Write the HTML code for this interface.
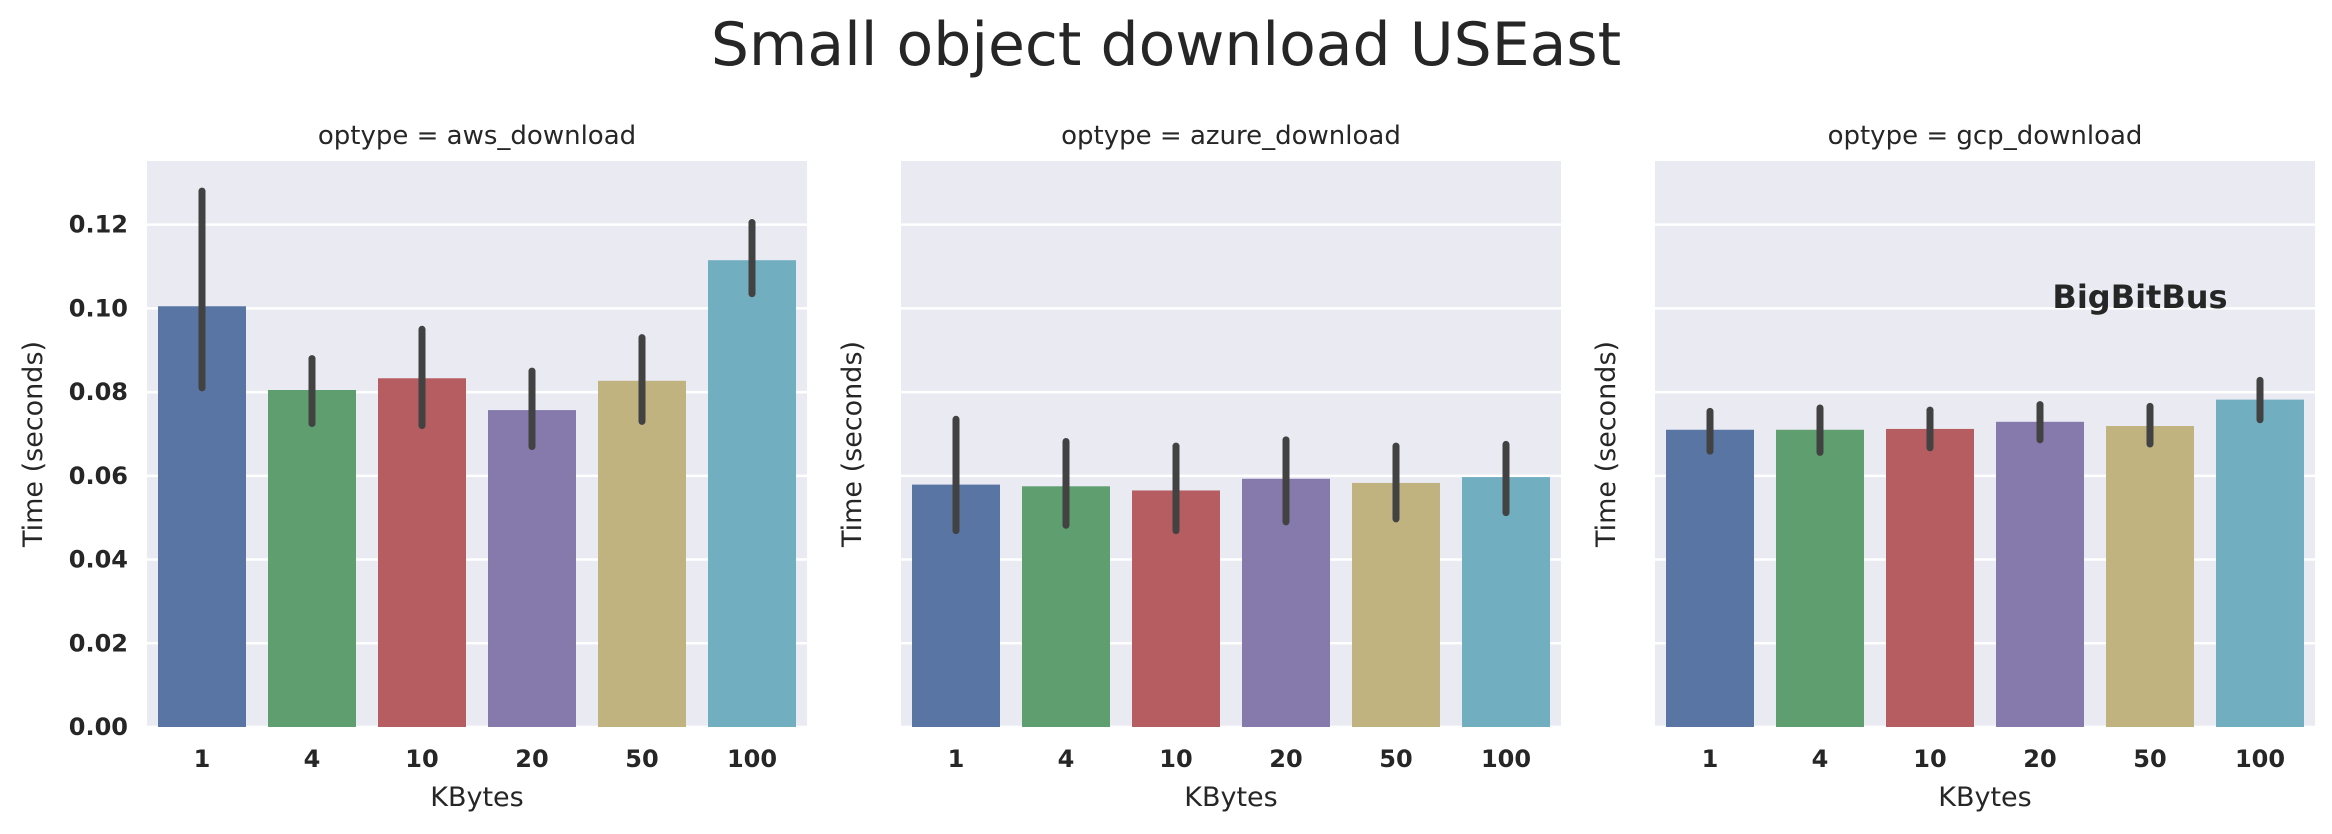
<!DOCTYPE html>
<html><head><meta charset="utf-8"><style>
html,body{margin:0;padding:0;background:#fff;}
svg{display:block;font-family:"DejaVu Sans","Liberation Sans",sans-serif;}
</style></head><body>
<svg id="chart" width="2332" height="834" viewBox="0 0 2332 834" xmlns="http://www.w3.org/2000/svg">
<text x="1166" y="65" font-size="60" text-anchor="middle" fill="#262626">Small object download USEast</text>
</svg>
<script>
const categories = ["1","4","10","20","50","100"];
const panelTitles = ["optype = aws_download","optype = azure_download","optype = gcp_download"];
const awsMean = [0.1005,0.0805,0.0833,0.0757,0.0827,0.1115];
const awsLow  = [0.081,0.0725,0.072,0.067,0.073,0.1035];
const awsHigh = [0.128,0.088,0.095,0.085,0.093,0.1205];
const azureMean = [0.0579,0.0575,0.0565,0.0593,0.0583,0.0597];
const azureLow  = [0.0469,0.0482,0.0469,0.0490,0.0497,0.0512];
const azureHigh = [0.0735,0.0682,0.0671,0.0686,0.0671,0.0675];
const gcpMean = [0.0710,0.0710,0.0712,0.0729,0.0719,0.0782];
const gcpLow  = [0.0659,0.0656,0.0667,0.0686,0.0676,0.0734];
const gcpHigh = [0.0754,0.0762,0.0757,0.0770,0.0766,0.0828];
const yTicks = [0,0.02,0.04,0.06,0.08,0.10,0.12];
const yTickLabels = ["0.00","0.02","0.04","0.06","0.08","0.10","0.12"];

const svgEl = document.getElementById('chart');
const NS = "http://www.w3.org/2000/svg";
const colors = ["#5975a4","#5f9e6e","#b55d60","#857aab","#c1b37f","#71aec0"];
const panels = [[awsMean,awsLow,awsHigh],[azureMean,azureLow,azureHigh],[gcpMean,gcpLow,gcpHigh]];
const lefts = [147,901,1655], pw = 660, plotTop = 161, plotBottom = 727, yMax = 0.1352;
function yScale(v){ return plotBottom - v/yMax*(plotBottom-plotTop); }
function mk(tag, attrs){ const e=document.createElementNS(NS,tag); for(const k in attrs) e.setAttribute(k,attrs[k]); svgEl.appendChild(e); return e; }
panels.forEach((p,pi)=>{
  const L = lefts[pi];
  const slot = pw/categories.length;
  function xScale(i){ return L + slot*(i+0.5); }
  const bg = mk('rect',{x:L,y:plotTop,width:pw,height:plotBottom-plotTop,fill:'#eaeaf2'});
  
  
  yTicks.forEach((t,ti)=>{
    const g = mk('line',{x1:L,x2:L+pw,y1:yScale(t),y2:yScale(t),stroke:'#fff','stroke-width':2.5});
    
    
    if(pi===0){
      const tl = mk('text',{x:L-19,y:yScale(t)+8,'font-size':24,'font-weight':'bold','text-anchor':'end',fill:'#262626'});
      tl.textContent = yTickLabels[ti];
      
      
    }
  });
  categories.forEach((c,i)=>{
    const bw = slot*0.8;
    const b = mk('rect',{x:xScale(i)-bw/2,y:yScale(p[0][i]),width:bw,height:plotBottom-yScale(p[0][i]),fill:colors[i]});
    
    
    const e = mk('line',{x1:xScale(i),x2:xScale(i),y1:yScale(p[1][i]),y2:yScale(p[2][i]),stroke:'#424242','stroke-width':7,'stroke-linecap':'round'});
    
    
    const tl = mk('text',{x:xScale(i),y:767,'font-size':24,'font-weight':'bold','text-anchor':'middle',fill:'#262626'});
    tl.textContent = c;
    
    
  });
  const pt = mk('text',{x:L+pw/2,y:144,'font-size':26,'text-anchor':'middle',fill:'#262626'});
  pt.textContent = panelTitles[pi];
  
  
  const xl = mk('text',{x:L+pw/2,y:806,'font-size':27,'text-anchor':'middle',fill:'#262626'});
  xl.textContent = 'KBytes';
  
  
  const yx = pi===0 ? 42 : L-40;
  const yl = mk('text',{x:yx,y:444,'font-size':27,'text-anchor':'middle',fill:'#262626',transform:'rotate(-90 '+yx+' 444)'});
  yl.textContent = 'Time (seconds)';
  
  
});
const wm = mk('text',{x:2140,y:308,'font-size':32,'font-weight':'bold','text-anchor':'middle',fill:'#262626'});
wm.textContent = 'BigBitBus';


</script>
</body></html>
